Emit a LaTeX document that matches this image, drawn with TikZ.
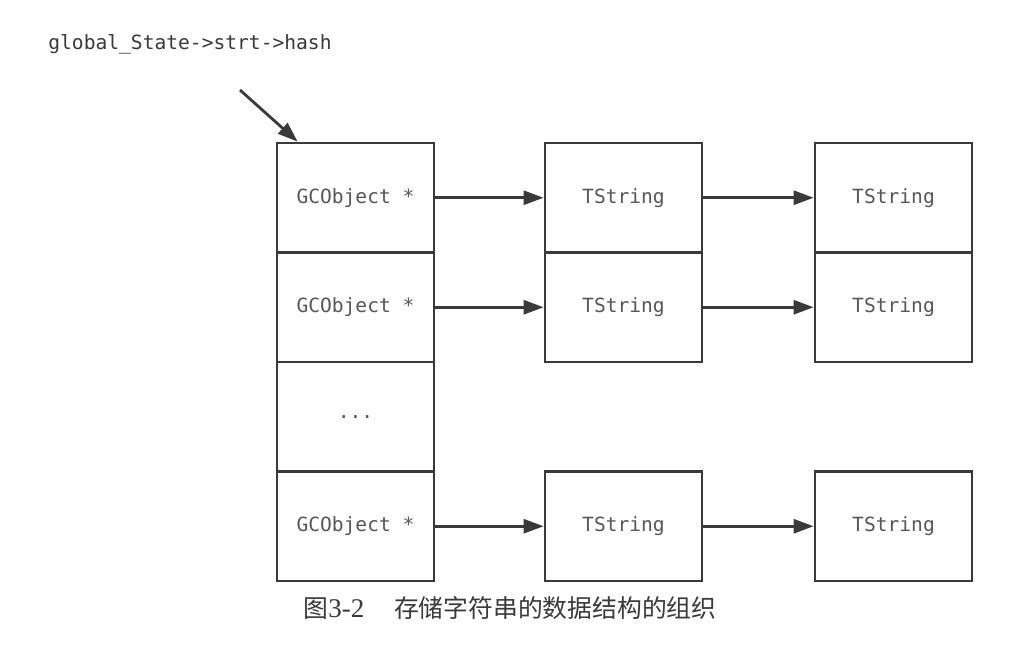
\documentclass[tikz,border=0pt]{standalone}
\usepackage{fontspec}
\setmonofont{DejaVu Sans Mono}
\setmainfont{Liberation Serif}
\newfontfamily\cjk{Noto Sans CJK SC}
\usetikzlibrary{arrows.meta,calc}
\definecolor{ink}{HTML}{3A3A3A}
\tikzset{
  cell/.style={draw=ink, line width=1.4pt, minimum width=78.5pt, minimum height=54.75pt,
    inner sep=0pt, font=\ttfamily\fontsize{9.8}{11}\selectfont, text=ink!85},
  link/.style={draw=ink, line width=1.4pt, -{Triangle[length=10pt,width=7pt]}}
}
\begin{document}
\begin{tikzpicture}[x=0.5pt,y=-0.5pt]
    \useasboundingbox[fill=white] (0,0) rectangle (1024,652);
    % hash array
    \node[cell] (g1) at (355.5,197.75) {GCObject *};
    \node[cell] (g2) at (355.5,307.25) {GCObject *};
    \node[cell] (g3) at (355.5,416.75) {...};
    \node[cell] (g4) at (355.5,526.25) {GCObject *};
    % string lists
    \node[cell] (s1) at (623.5,197.75) {TString};
    \node[cell] (s2) at (623.5,307.25) {TString};
    \node[cell] (s4) at (623.5,526.25) {TString};
    \node[cell] (n1) at (893.5,197.75) {TString};
    \node[cell] (n2) at (893.5,307.25) {TString};
    \node[cell] (n4) at (893.5,526.25) {TString};

    \draw[link] (g1) -- (s1);
    \draw[link] (g2) -- (s2);
    \draw[link] (g4) -- (s4);
    \draw[link] (s1) -- (n1);
    \draw[link] (s2) -- (n2);
    \draw[link] (s4) -- (n4);

    % pointer to the table
    \node[font=\ttfamily\fontsize{9.8}{11}\selectfont, text=ink, anchor=west, inner sep=0pt] (hash) at (48,44) {global\_State->strt->hash};
    \coordinate (tail) at (240,90);
    \draw[link] (tail) -- ($(g1.north west)+(22,0)$);

    % caption
    \node[text=ink, font=\fontsize{12.4}{14}\selectfont, inner sep=0pt] (cap) at (510,608)
      {{\cjk 图}{\fontsize{13.5}{14}\selectfont 3-2}\hspace{1.2em}{\cjk 存储字符串的数据结构的组织}};
\end{tikzpicture}
\end{document}
